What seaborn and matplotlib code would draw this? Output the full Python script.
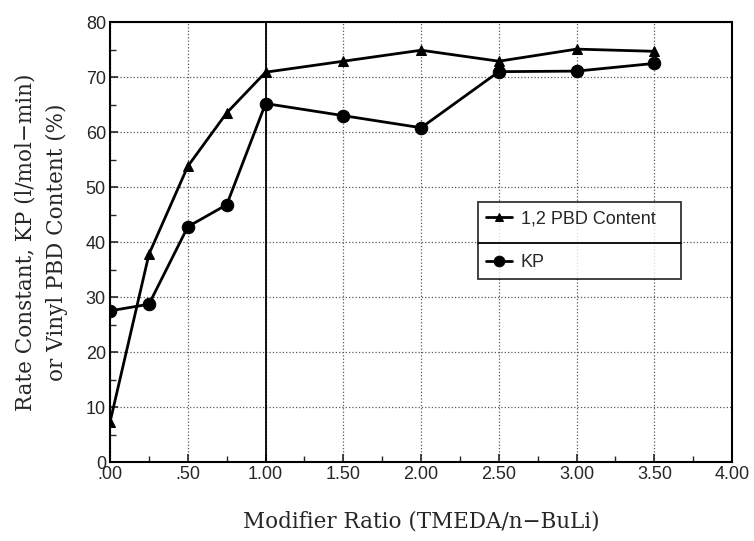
import pandas as pd
import numpy as np
import matplotlib.pyplot as plt
from matplotlib.ticker import MultipleLocator, FuncFormatter
from matplotlib.lines import Line2D

import seaborn as sns

ratio = [0.0, 0.25, 0.5, 0.75, 1.0, 1.5, 2.0, 2.5, 3.0, 3.5]
pbd_content = [7.3, 37.8, 53.8, 63.5, 70.9, 72.9, 74.9, 72.9, 75.1, 74.7]
kp = [27.5, 28.7, 42.8, 46.8, 65.2, 63.0, 60.8, 71.0, 71.1, 72.5]

sns.set_theme(style="white")
plt.rcParams["font.family"] = ["Liberation Sans", "DejaVu Sans"]

fig = plt.figure(figsize=(7.54, 5.41), dpi=100)
ax = fig.add_axes([0.146, 0.146, 0.825, 0.813])

df1 = pd.DataFrame({"ratio": ratio, "value": pbd_content})
df2 = pd.DataFrame({"ratio": ratio, "value": kp})
sns.lineplot(data=df1, x="ratio", y="value", ax=ax, color="black", lw=2,
             marker="^", markersize=6.5, markeredgecolor="black", label="1,2 PBD Content", zorder=5)
sns.lineplot(data=df2, x="ratio", y="value", ax=ax, color="black", lw=2,
             marker="o", markersize=9, markeredgecolor="black", label="KP", zorder=5)

ax.set_xlim(0, 4)
ax.set_ylim(0, 80)
ax.xaxis.set_major_locator(MultipleLocator(0.5))
ax.xaxis.set_minor_locator(MultipleLocator(0.25))
ax.yaxis.set_major_locator(MultipleLocator(10))
ax.yaxis.set_minor_locator(MultipleLocator(5))
ax.xaxis.set_major_formatter(FuncFormatter(lambda v, p: ("%.2f" % v).lstrip("0") if v < 1 else "%.2f" % v))
ax.tick_params(axis="both", which="major", direction="in", length=6, width=1.2,
               labelsize=13, bottom=True, left=True, top=False, right=False, pad=3)
ax.tick_params(axis="both", which="minor", direction="in", length=4, width=1,
               bottom=True, left=True, top=False, right=False)

ax.grid(True, which="major", linestyle=":", color="0.35", lw=0.9)
ax.axvline(1.0, color="black", lw=1.3, zorder=3)
for s in ax.spines.values():
    s.set_color("black")
    s.set_linewidth(1.5)

ax.set_xlabel("Modifier Ratio (TMEDA/n\u2212BuLi)", family="DejaVu Serif",
              fontsize=15.5, labelpad=20)
ax.set_ylabel("Rate Constant, KP (l/mol\u2212min)\nor Vinyl PBD Content (%)",
              family="DejaVu Serif", fontsize=15.5, labelpad=13, linespacing=1.5)

ax.get_legend().remove()
handles, labels = ax.get_legend_handles_labels()
leg = ax.legend(handles, labels, bbox_to_anchor=(0.592, 0.409, 0.326, 0.182),
                mode="expand", loc="upper left", borderaxespad=0, frameon=True,
                fancybox=False, edgecolor="black", fontsize=13, handlelength=1.4,
                handletextpad=0.5, borderpad=0.45, labelspacing=1.5, markerscale=0.85)
leg.get_frame().set_linewidth(1.3)
leg.set_zorder(6)
sep = Line2D([0.592, 0.918], [0.498, 0.498], transform=ax.transAxes, color="black", lw=1.3, zorder=7)
ax.add_line(sep)

plt.savefig("out.png", dpi=100)
